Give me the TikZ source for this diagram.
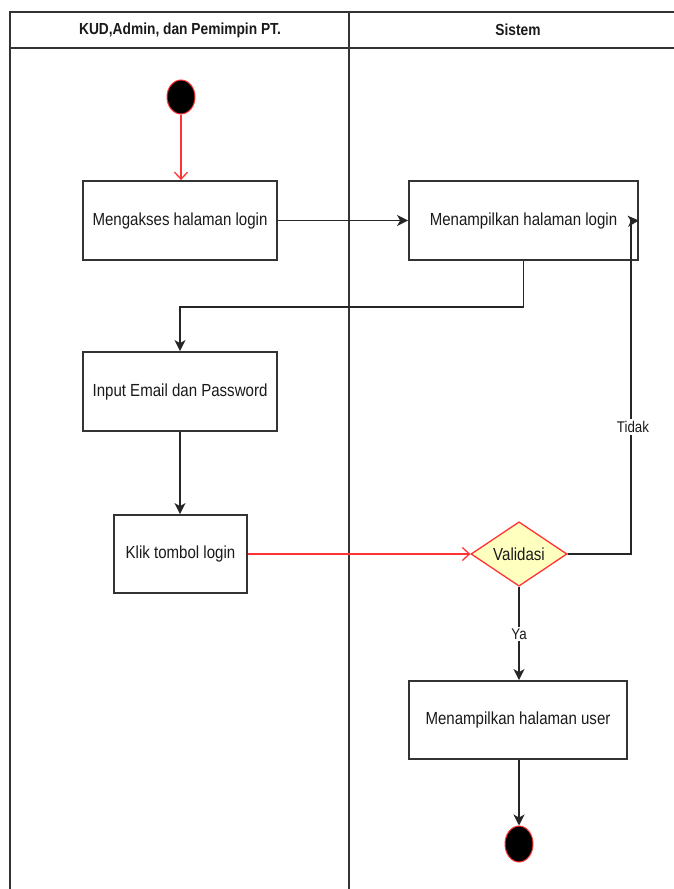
\documentclass[tikz,border=0pt]{standalone}
\usepackage{fontspec}
\setmainfont{Liberation Sans}[FakeStretch=0.86]
\usetikzlibrary{arrows.meta,shapes.geometric}
\definecolor{lanecol}{HTML}{333333}
\definecolor{linecol}{HTML}{262626}
\definecolor{flowred}{HTML}{FF3333}
\definecolor{decfill}{HTML}{FFFFC0}
\definecolor{txtcol}{HTML}{1A1A1A}
\tikzset{
  lane/.style={draw=lanecol, line width=1.6pt},
  act/.style={draw=lanecol, line width=1.8pt, fill=white, rectangle, inner sep=0pt,
    text=txtcol, font=\fontsize{17.5pt}{20pt}\selectfont},
  dot/.style={ellipse, fill=black, draw=flowred, line width=1pt, inner sep=0pt,
    minimum width=28pt},
  flow/.style={draw=linecol, line width=1.6pt, -{Stealth[length=11pt,width=11pt,inset=3pt]}},
  redflow/.style={draw=flowred, line width=1.3pt, -{Straight Barb[length=7pt,width=13pt]}},
  guard/.style={fill=white, text=txtcol, inner sep=2pt, font=\fontsize{15.5pt}{18pt}\selectfont},
  head/.style={text=txtcol, font=\fontsize{16pt}{19pt}\selectfont\bfseries}
}
\begin{document}
\begin{tikzpicture}[x=1pt,y=-1pt]
\useasboundingbox (0,0) rectangle (674,889);

% swimlanes
\draw[lane] (674,12) -- (10,12) -- (10,889);
\draw[lane] (10,48) -- (674,48);
\draw[lane] (349,12) -- (349,889);
\node[head] (h1) at (180,30) {KUD,Admin, dan Pemimpin PT.};
\node[head] (h2) at (518,30) {Sistem};

% activity nodes
\node[dot, minimum height=34pt] (start) at (181,97) {};
\node[act, minimum width=194pt, minimum height=79pt] (b1) at (180,220.5) {Mengakses halaman login};
\node[act, minimum width=229pt, minimum height=79pt] (b2) at (523.5,220.5) {Menampilkan halaman login};
\node[act, minimum width=194pt, minimum height=79pt] (b3) at (180,391.5) {Input Email dan Password};
\node[act, minimum width=133pt, minimum height=78pt] (b4) at (180.5,554) {Klik tombol login};
\node[diamond, draw=flowred, fill=decfill, line width=1.3pt, inner sep=0pt,
      minimum width=96pt, minimum height=62pt, text=txtcol,
      font=\fontsize{17.5pt}{20pt}\selectfont] (dec) at (519,554) {Validasi};
\node[act, minimum width=218pt, minimum height=78pt] (b5) at (518,720) {Menampilkan halaman user};
\node[dot, minimum height=36pt] (end) at (519,844) {};

% connectors
\draw[redflow] (start) -- (start |- b1.north);
\draw[flow] (b1.east) -- (b2.west);
\draw[flow] (b2.south) -- ++(0,46) -| (b3.north);
\draw[flow] (b3.south) -- (b3.south |- b4.north);
\draw[redflow] (b4.east) -- (dec.west);
\coordinate (turn) at (631,221);
\draw[flow] (dec.east) -| (turn) -- (b2.east);
\node[guard] (tidak) at (633,427) {Tidak};
\draw[flow] (dec.south) -- (dec.south |- b5.north);
\node[guard] (ya) at (519,634) {Ya};
\draw[flow] (end.north |- b5.south) -- (end.north);
\end{tikzpicture}
\end{document}
